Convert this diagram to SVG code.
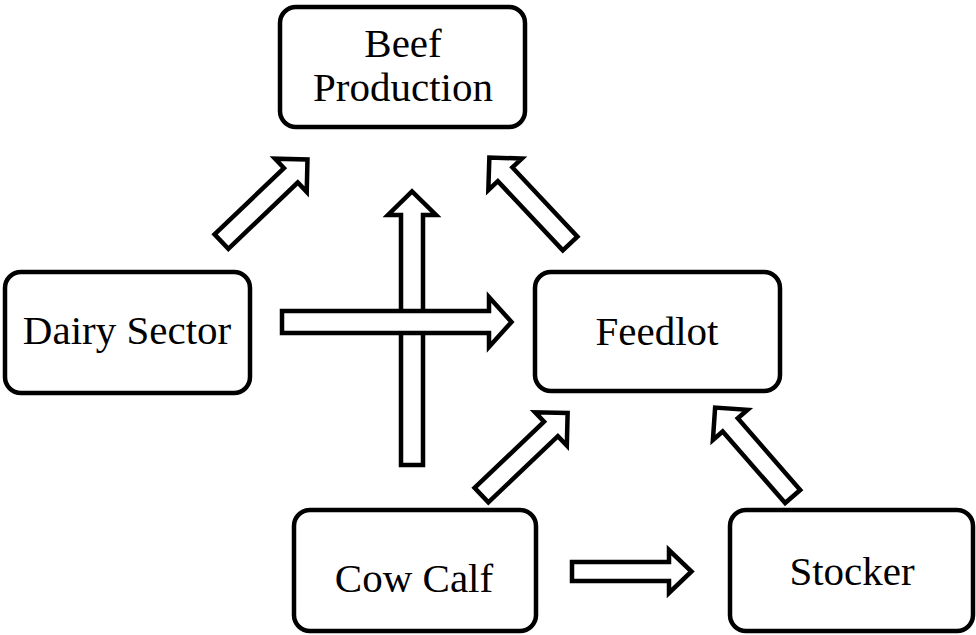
<svg xmlns="http://www.w3.org/2000/svg" width="976" height="635" viewBox="0 0 976 635">
<style>
.box{fill:#fff;stroke:#000;stroke-width:4.5}
.arr{fill:#fff;stroke:#000;stroke-width:4.5;stroke-linejoin:miter;stroke-miterlimit:10}
.lbl{font-family:"Liberation Serif","Times New Roman",serif;font-size:41px;fill:#000;text-anchor:middle}
</style>
<rect width="976" height="635" fill="#fff"/>
<g id="node-beef">
<rect class="box" x="280" y="7" width="245" height="120" rx="16"/>
<text class="lbl" x="403" y="100"><tspan x="403" y="57">Beef</tspan><tspan x="403" y="101">Production</tspan></text>
</g>
<g id="node-dairy">
<rect class="box" x="5" y="272" width="245" height="121" rx="16"/>
<text class="lbl" x="127" y="344">Dairy Sector</text>
</g>
<g id="node-feedlot">
<rect class="box" x="535" y="272" width="245" height="119" rx="16"/>
<text class="lbl" x="657" y="345">Feedlot</text>
</g>
<g id="node-cowcalf">
<rect class="box" x="294" y="510" width="242" height="121" rx="16"/>
<text class="lbl" x="414" y="592">Cow Calf</text>
</g>
<g id="node-stocker">
<rect class="box" x="730" y="510" width="243" height="121" rx="16"/>
<text class="lbl" x="852" y="585">Stocker</text>
</g>
<g id="connectors">
<path class="arr" transform="translate(220,243) rotate(-43.7)" d="M2,-10 H98 V-23 L121,0 L98,23 V10 H2 Z"/>
<path class="arr" transform="translate(571.5,245) rotate(-133.2)" d="M2,-10 H97 V-23 L120,0 L97,23 V10 H2 Z"/>
<path class="arr" transform="translate(480,496.5) rotate(-43.6)" d="M2,-10 H98 V-23 L121,0 L98,23 V10 H2 Z"/>
<path class="arr" transform="translate(794,498) rotate(-131.1)" d="M2,-10 H97 V-23 L120,0 L97,23 V10 H2 Z"/>
<path class="arr" transform="translate(570,571.5)" d="M2,-9.5 H99 V-21.5 L121.5,0 L99,21.5 V9.5 H2 Z"/>
<path class="arr" transform="translate(412,467) rotate(-90)" d="M2,-11 H252 V-24 L275.5,0 L252,24 V11 H2 Z"/>
<path class="arr" transform="translate(280,322)" d="M2,-11 H209 V-25 L231.5,0 L209,25 V11 H2 Z"/>
</g>
</svg>
